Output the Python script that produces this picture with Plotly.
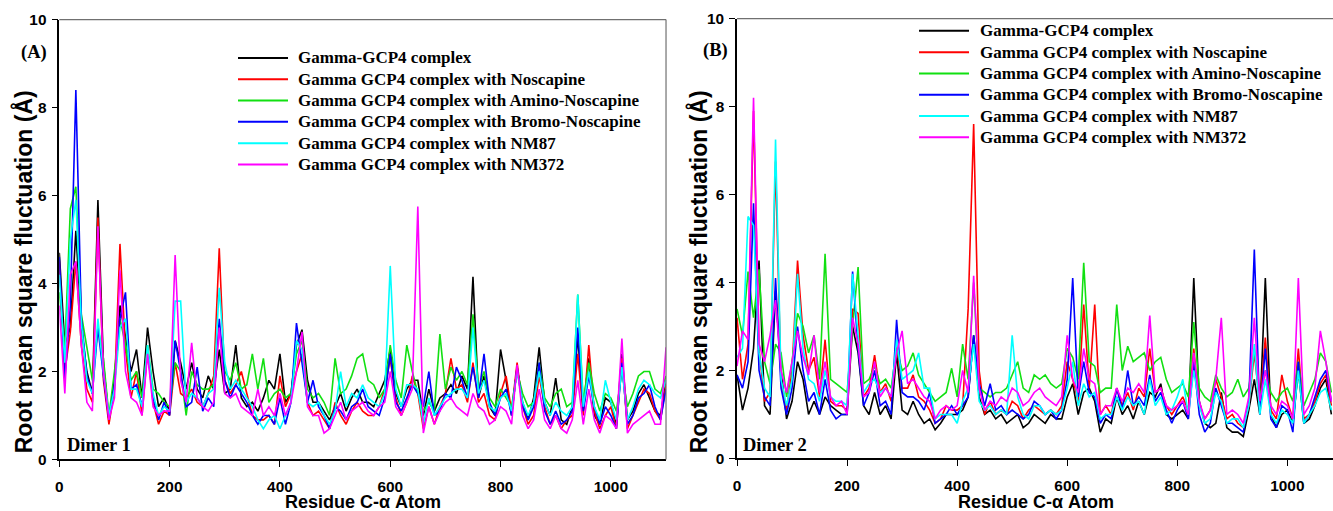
import plotly.graph_objects as go

# ---------------- data ----------------
series_names = [
    "Gamma-GCP4 complex",
    "Gamma GCP4 complex with Noscapine",
    "Gamma GCP4 complex with Amino-Noscapine",
    "Gamma GCP4 complex with Bromo-Noscapine",
    "Gamma GCP4 complex with NM87",
    "Gamma GCP4 complex with NM372",
]
series_colors = ["#000000", "#ff0000", "#11e011", "#0000ff", "#00ffff", "#ff00ff"]

residues_a = list(range(0, 1101, 10))
residues_b = list(range(0, 1081, 10))

# Dimer 1 (panel A)
a_black = [4.7, 2.6, 3.0, 5.2, 3.0, 2.0, 1.5, 5.9, 2.2, 0.9,
           1.8, 3.5, 2.8, 2.0, 2.5, 1.4, 3.0, 2.0, 1.2, 1.4,
           1.1, 2.7, 2.2, 1.6, 2.2, 1.6, 1.4, 1.9, 1.6, 2.5,
           1.5, 1.6, 2.6, 1.4, 1.2, 1.3, 1.1, 1.4, 1.8, 1.6,
           2.4, 1.3, 1.5, 2.6, 2.95, 1.8, 1.3, 1.3, 1.1, 0.9,
           1.2, 1.5, 1.1, 1.4, 1.6, 1.3, 1.3, 1.2, 1.5, 1.8,
           2.5, 1.5, 1.2, 1.6, 1.8, 1.8, 1.0, 1.6, 1.1, 1.4,
           1.5, 1.7, 1.5, 1.9, 1.6, 4.15, 1.4, 1.9, 1.2, 1.0,
           2.5, 1.8, 1.0, 2.1, 1.3, 0.9, 1.4, 2.55, 1.3, 1.0,
           1.85, 0.9, 0.8, 1.2, 2.8, 1.1, 2.3, 1.0, 0.8, 1.4,
           1.3, 0.8, 2.4, 0.9, 1.1, 1.5, 1.7, 1.4, 1.1, 1.0, 1.8]
a_red = [4.5, 2.0, 2.9, 4.5, 2.6, 1.6, 1.3, 5.5, 1.8, 0.8,
         1.6, 4.9, 2.5, 1.4, 2.0, 1.0, 2.5, 1.3, 0.8, 1.1,
         1.0, 2.2, 1.5, 1.4, 1.6, 1.3, 1.2, 1.5, 1.9, 4.8,
         1.8, 1.5, 1.7, 2.0, 1.5, 1.0, 0.9, 0.9, 1.0, 0.8,
         1.9, 1.2, 1.5, 2.0, 2.4, 1.3, 1.0, 1.1, 0.9, 0.7,
         1.3, 1.0, 0.8, 1.1, 1.3, 1.1, 1.0, 1.0, 1.2, 1.6,
         2.3, 1.4, 1.0, 1.3, 1.9, 1.5, 0.7, 1.2, 0.8, 1.2,
         1.5, 2.3, 1.6, 1.7, 1.3, 2.2, 1.3, 1.5, 1.0, 0.9,
         1.5, 1.9, 1.1, 2.2, 1.2, 0.8, 1.0, 1.9, 1.2, 0.8,
         1.0, 0.7, 0.9, 1.0, 2.4, 1.0, 2.6, 1.1, 0.7, 1.0,
         1.2, 0.7, 2.3, 0.7, 1.0, 1.3, 1.6, 1.5, 1.1, 0.9, 1.7]
a_green = [3.8, 2.5, 5.7, 6.2, 3.3, 2.5, 1.8, 3.0, 2.3, 1.0,
           2.0, 3.2, 2.6, 1.8, 2.0, 1.4, 2.6, 1.6, 1.5, 1.3,
           1.2, 2.2, 2.0, 1.0, 2.0, 1.7, 1.6, 1.6, 1.7, 3.0,
           2.0, 1.8, 2.2, 1.6, 1.7, 2.4, 1.6, 2.3, 1.3, 1.5,
           1.6, 1.4, 1.5, 2.4, 2.7, 1.6, 1.4, 1.5, 1.3, 1.0,
           2.3, 1.5, 1.6, 1.9, 2.3, 2.4, 1.8, 1.7, 1.4, 1.6,
           2.6, 1.8, 1.4, 2.6, 2.0, 1.5, 1.1, 1.3, 1.1, 2.85,
           1.6, 2.1, 1.8, 2.0, 1.7, 3.3, 1.6, 2.0, 1.4, 1.2,
           1.6, 1.4, 1.2, 2.0, 1.5, 1.2, 1.3, 2.2, 1.4, 1.2,
           1.5, 1.6, 1.2, 1.3, 3.75, 1.3, 2.2, 1.5, 1.1, 1.5,
           1.4, 1.1, 2.0, 1.2, 1.5, 1.9, 2.0, 2.0, 1.6, 1.5, 1.9]
a_blue = [4.6, 1.8, 3.5, 8.4, 3.2, 1.9, 1.5, 3.0, 1.9, 0.9,
          1.7, 3.2, 3.8, 1.6, 1.7, 1.2, 2.5, 1.4, 0.9, 1.3,
          1.0, 2.7, 2.0, 1.2, 1.3, 2.1, 1.1, 1.4, 1.2, 3.2,
          1.8, 1.4, 1.7, 1.5, 1.3, 1.0, 0.8, 1.0, 1.0, 0.8,
          1.4, 0.8, 1.3, 3.1, 2.2, 1.3, 1.8, 1.2, 1.0, 0.7,
          1.2, 1.1, 0.9, 1.2, 1.3, 1.6, 1.2, 1.1, 1.0, 1.4,
          2.4, 1.3, 1.1, 1.4, 1.7, 1.5, 1.2, 2.0, 1.0, 1.1,
          1.5, 1.4, 2.1, 1.8, 1.4, 2.1, 1.4, 2.4, 1.3, 1.0,
          1.4, 1.6, 1.0, 2.1, 1.2, 0.9, 1.2, 2.2, 1.1, 0.8,
          1.1, 0.8, 0.9, 1.1, 3.0, 1.1, 1.9, 1.2, 0.8, 1.2,
          1.0, 0.7, 2.2, 0.8, 1.0, 1.4, 1.5, 1.7, 1.2, 0.9, 1.6]
a_cyan = [4.2, 2.2, 5.0, 5.9, 3.1, 1.8, 1.5, 3.2, 2.0, 1.0,
          1.6, 3.0, 3.2, 1.6, 1.6, 1.2, 2.6, 1.5, 1.0, 1.2,
          1.1, 3.6, 3.6, 1.3, 1.5, 1.4, 1.2, 1.5, 1.6, 3.9,
          2.2, 1.6, 1.8, 1.6, 1.4, 1.2, 0.9, 0.7, 0.9, 1.0,
          0.7, 1.0, 1.3, 2.7, 2.5, 1.3, 1.2, 1.3, 1.0, 0.8,
          1.1, 2.0, 1.2, 1.5, 1.4, 1.7, 1.4, 1.3, 1.2, 1.5,
          4.4, 1.6, 1.2, 1.7, 1.7, 1.6, 0.8, 1.4, 1.0, 1.2,
          1.4, 1.5, 1.6, 1.6, 1.4, 3.0, 1.5, 1.8, 1.2, 1.1,
          1.4, 1.5, 1.1, 2.0, 1.3, 1.0, 1.3, 2.0, 1.3, 1.0,
          1.3, 1.1, 1.0, 1.2, 3.75, 1.2, 2.0, 1.2, 0.9, 1.8,
          1.3, 0.9, 2.1, 0.9, 1.2, 1.6, 1.8, 1.7, 1.5, 1.4, 1.8]
a_magenta = [3.5, 1.5, 4.2, 4.5, 2.6, 1.3, 1.1, 5.3, 2.0, 0.9,
             1.4, 4.3, 2.0, 1.4, 1.3, 1.0, 2.4, 1.2, 1.0, 1.1,
             1.1, 4.65, 1.8, 1.3, 2.65, 1.4, 1.2, 1.1, 1.3, 3.0,
             1.5, 1.4, 1.5, 1.2, 1.1, 1.0, 1.6, 1.0, 1.2, 1.0,
             1.5, 1.0, 1.3, 2.0, 2.9, 1.2, 1.0, 1.0, 0.6, 0.7,
             1.0, 1.3, 0.9, 1.1, 1.2, 1.3, 1.1, 1.0, 1.2, 1.3,
             2.0, 1.2, 1.0, 1.3, 1.6, 5.75, 0.6, 1.2, 0.8, 1.1,
             1.3, 1.4, 1.2, 1.1, 1.0, 1.5, 1.2, 1.1, 0.8, 0.9,
             1.2, 1.1, 0.8, 2.15, 1.0, 0.7, 0.9, 1.6, 0.9, 0.7,
             1.0, 0.7, 0.6, 0.9, 1.8, 0.8, 1.6, 0.9, 0.6, 1.0,
             0.9, 0.7, 2.75, 0.6, 0.8, 0.9, 1.0, 1.1, 0.8, 0.8, 2.55]

# Dimer 2 (panel B)
b_black = [1.9, 1.1, 1.6, 2.5, 4.5, 1.2, 1.0, 3.8, 2.0, 0.9,
           1.3, 2.2, 1.8, 1.0, 1.3, 1.0, 1.4, 1.2, 1.1, 1.0,
           1.0, 3.0, 2.4, 1.2, 1.0, 1.5, 1.0, 1.2, 0.9, 2.4,
           1.1, 1.0, 1.3, 1.0, 0.8, 0.9, 0.65, 0.8, 1.0, 1.0,
           1.0, 1.1, 1.4, 2.8, 1.4, 1.0, 1.1, 0.9, 1.0, 0.8,
           0.9, 1.0, 0.7, 0.8, 1.0, 0.9, 0.8, 1.0, 0.9, 0.9,
           1.4, 1.7, 1.0, 1.5, 1.6, 1.3, 0.6, 0.9, 0.8, 1.4,
           1.0, 1.2, 0.9, 1.3, 1.0, 1.5, 1.4, 1.7, 1.0, 0.9,
           1.0, 1.1, 0.9, 4.1, 1.3, 0.8, 0.7, 0.8, 1.5, 0.7,
           0.6, 0.6, 0.5, 1.1, 1.8, 1.0, 4.1, 1.0, 0.7, 1.0,
           1.1, 0.8, 2.0, 0.8, 0.9, 1.2, 1.6, 1.8, 1.0]
b_red = [3.2, 1.8, 2.6, 7.9, 2.5, 1.3, 1.5, 6.75, 1.7, 1.1,
         2.0, 4.5, 2.8, 2.0, 2.3, 1.4, 2.7, 1.3, 1.2, 1.2,
         1.1, 3.4, 3.3, 1.4, 1.6, 2.35, 1.5, 1.7, 1.3, 2.6,
         1.6, 1.6, 1.9, 1.4, 1.3, 1.1, 0.8, 0.9, 1.2, 1.1,
         1.1, 1.2, 3.4, 7.6, 2.0, 1.0, 1.3, 1.0, 1.1, 1.0,
         1.3, 1.2, 0.9, 1.1, 1.2, 1.1, 1.0, 1.1, 1.0, 1.2,
         2.2, 1.8, 1.3, 3.5, 1.6, 3.5, 1.0, 1.2, 1.0, 1.6,
         1.2, 1.5, 1.1, 1.6, 1.4, 2.5, 1.5, 1.6, 1.2, 1.0,
         1.2, 1.4, 1.1, 2.5, 1.2, 0.9, 1.1, 1.8, 1.4, 0.9,
         1.0, 0.8, 0.7, 1.2, 2.4, 1.2, 2.75, 1.1, 0.9, 1.9,
         1.3, 0.9, 2.5, 0.9, 1.0, 1.3, 1.7, 1.9, 1.2]
b_green = [3.4, 2.8, 4.25, 3.2, 4.3, 2.2, 1.7, 2.6, 2.4, 1.4,
           2.2, 3.3, 3.0, 2.4, 2.8, 1.8, 4.65, 1.8, 1.7, 1.6,
           1.5, 3.0, 4.35, 1.7, 1.8, 2.1, 1.7, 1.8, 1.6, 2.5,
           2.0, 2.1, 2.4, 1.9, 1.7, 1.5, 1.3, 1.4, 1.5, 2.05,
           1.4, 2.6, 1.8, 4.0, 1.6, 1.5, 1.4, 1.5, 1.5, 1.6,
           1.9, 2.2, 1.6, 1.5, 1.9, 1.8, 1.9, 1.7, 1.6, 1.7,
           2.5, 2.3, 1.8, 4.45, 2.2, 2.1, 1.5, 1.6, 1.6, 3.5,
           2.0, 2.55, 2.2, 2.3, 2.4, 2.0, 2.2, 2.3, 1.8, 1.5,
           1.6, 1.7, 1.4, 3.1, 1.6, 1.4, 1.3, 1.9, 1.6, 1.4,
           1.5, 1.8, 1.4, 1.6, 2.5, 1.4, 2.0, 1.5, 1.3, 1.5,
           1.6, 1.3, 2.2, 1.2, 1.5, 1.8, 2.4, 2.2, 1.5]
b_blue = [1.9, 1.6, 2.2, 5.8, 2.0, 1.4, 1.2, 4.1, 1.6, 1.0,
          1.6, 3.0, 2.0, 1.3, 1.5, 1.0, 1.8, 1.1, 0.9, 1.0,
          1.0, 4.25, 2.5, 1.2, 1.5, 2.0, 1.2, 1.3, 1.0, 3.15,
          1.5, 1.4, 1.4, 1.3, 1.1, 1.5, 0.8, 0.9, 1.0, 1.2,
          1.0, 1.2, 1.4, 2.8, 1.7, 1.2, 1.7, 1.1, 1.2, 1.0,
          1.1, 1.0, 0.9, 1.0, 1.3, 1.2, 1.0, 1.1, 0.9, 1.1,
          1.8, 4.1, 1.4, 2.2, 1.5, 1.4, 0.8, 1.0, 0.9, 1.6,
          1.1, 2.0, 1.2, 1.4, 1.2, 1.9, 1.3, 1.5, 1.1, 0.8,
          1.1, 1.3, 0.9, 2.2, 1.0, 0.6, 0.8, 1.6, 1.2, 0.8,
          0.8, 0.7, 0.6, 1.3, 4.75, 1.0, 2.5, 0.9, 0.7, 1.2,
          1.1, 0.6, 2.2, 0.8, 1.0, 1.4, 1.8, 2.0, 1.3]
b_cyan = [2.3, 2.5, 5.5, 5.3, 2.4, 1.6, 1.4, 7.25, 1.8, 1.2,
          1.8, 4.2, 2.5, 1.8, 1.7, 1.3, 2.0, 1.4, 1.3, 1.3,
          1.2, 4.2, 2.8, 1.5, 1.7, 1.8, 1.5, 1.6, 1.4, 2.7,
          1.8, 1.9, 2.0, 2.4, 1.6, 1.6, 0.9, 1.0, 1.0, 1.0,
          0.8, 1.3, 1.6, 2.6, 1.3, 1.1, 1.2, 1.0, 1.1, 1.0,
          2.8, 1.4, 1.0, 0.9, 1.2, 1.2, 1.0, 1.1, 1.0, 1.1,
          1.6, 2.2, 1.2, 1.7, 1.4, 1.5, 0.9, 1.0, 1.0, 1.4,
          1.1, 1.4, 1.2, 1.3, 1.0, 1.8, 1.2, 1.4, 1.0, 1.1,
          1.4, 1.8, 1.0, 2.0, 1.2, 0.8, 0.9, 1.5, 1.3, 0.8,
          0.9, 0.9, 0.7, 1.2, 2.6, 1.0, 1.8, 1.0, 0.8, 1.1,
          1.0, 0.8, 2.0, 0.8, 1.0, 1.2, 1.5, 1.6, 1.1]
b_magenta = [2.1, 2.9, 2.7, 8.2, 2.6, 2.2, 2.8, 3.6, 2.0, 1.5,
             2.2, 2.9, 2.3, 1.9, 2.8, 1.5, 2.2, 1.4, 1.2, 1.3,
             1.0, 3.2, 2.6, 1.4, 1.5, 2.2, 1.4, 1.6, 1.4, 2.4,
             2.9, 1.7, 1.8, 1.6, 1.4, 1.3, 0.9, 1.1, 1.2, 1.1,
             1.2, 2.0, 1.5, 4.15, 1.6, 1.1, 1.3, 1.2, 1.4, 1.3,
             1.6, 1.5, 1.2, 1.3, 1.5, 1.6, 1.4, 1.3, 1.2, 1.4,
             2.8, 1.8, 1.5, 2.5, 1.8, 1.7, 1.0, 1.2, 1.2, 1.6,
             1.3, 1.6, 1.5, 1.7, 1.5, 3.25, 1.5, 1.6, 1.2, 1.1,
             1.2, 1.3, 1.0, 2.4, 1.3, 0.9, 1.1, 1.8, 3.2, 1.0,
             1.1, 1.0, 0.8, 1.4, 3.2, 1.3, 2.0, 1.2, 1.0, 1.3,
             1.2, 0.9, 4.1, 1.0, 1.2, 1.6, 2.9, 2.2, 1.3]

panel_a = [a_black, a_red, a_green, a_blue, a_cyan, a_magenta]
panel_b = [b_black, b_red, b_green, b_blue, b_cyan, b_magenta]

x_ticks = [0, 200, 400, 600, 800, 1000]
y_ticks = [0, 2, 4, 6, 8, 10]

# ---------------- layout geometry ----------------
# The captured page shows the figure with a small offset and a vertical
# squeeze; these helpers map a wanted on-screen position to figure pixels.
W, H = 1346, 521
OX, OY, KX, KY = 3.0, 8.5, 0.997, 0.9646


def px(sx):
    return (sx - OX) / KX


def py(sy):
    return (sy - OY) / KY


def fx(sx):
    return min(1.0, max(0.0, px(sx) / W))


def fy(sy):
    return min(1.0, max(0.0, 1 - py(sy) / H))


fig = go.Figure()
for name, color, ys in zip(series_names, series_colors, panel_a):
    fig.add_trace(go.Scatter(x=residues_a, y=ys, mode="lines", name=name,
                             line=dict(color=color, width=1.6),
                             xaxis="x", yaxis="y", showlegend=False))
for name, color, ys in zip(series_names, series_colors, panel_b):
    fig.add_trace(go.Scatter(x=residues_b, y=ys, mode="lines", name=name,
                             line=dict(color=color, width=1.6),
                             xaxis="x2", yaxis="y2", showlegend=False))

SANS = "Arial, Liberation Sans, sans-serif"
SERIF = "Liberation Serif, Times New Roman, serif"
tick_font = dict(family=SANS, size=15.4, color="#000")


def xaxis(domain, rng, anchor):
    return dict(domain=domain, range=rng, tickvals=x_ticks,
                ticktext=[f"<b>{v}</b>" for v in x_ticks],
                ticks="outside", ticklen=6, tickwidth=1, tickcolor="#000",
                ticklabelstandoff=6,
                showline=True, linecolor="#000", linewidth=1.5, mirror=False,
                showgrid=False, zeroline=False, tickfont=tick_font, anchor=anchor)


def yaxis(domain, anchor):
    return dict(domain=domain, range=[0, 10], tickvals=y_ticks,
                ticktext=[f"<b>{v}</b>" for v in y_ticks],
                ticks="outside", ticklen=6, tickwidth=1, tickcolor="#000",
                ticklabelstandoff=2,
                showline=True, linecolor="#000", linewidth=1.5, mirror=False,
                showgrid=False, zeroline=False, tickfont=tick_font, anchor=anchor)


annotations = []
shapes = []

# panel frames (top/right in grey)
for xr, yr in (("x", "y"), ("x2", "y2")):
    shapes.append(dict(type="line", xref=f"{xr} domain", yref=f"{yr} domain",
                       x0=0, x1=1, y0=1, y1=1, line=dict(color="#707070", width=1.2)))
    shapes.append(dict(type="line", xref=f"{xr} domain", yref=f"{yr} domain",
                       x0=1, x1=1, y0=0, y1=1, line=dict(color="#707070", width=1.2)))

# legends (key lines + labels)
legend_cfg = [
    dict(x0=237, x1=287, tx=295, rows=[57.3, 78.6, 99.8, 121.0, 142.3, 163.5]),
    dict(x0=918, x1=968, tx=977, rows=[30.3, 51.6, 72.8, 94.0, 115.3, 136.5]),
]
for cfg in legend_cfg:
    for name, color, ry in zip(series_names, series_colors, cfg["rows"]):
        shapes.append(dict(type="line", xref="paper", yref="paper",
                           x0=fx(cfg["x0"]), x1=fx(cfg["x1"]),
                           y0=fy(ry), y1=fy(ry),
                           line=dict(color=color, width=2)))
        annotations.append(dict(text=f"<b>{name}</b>", x=fx(cfg["tx"]), y=fy(ry),
                                xref="paper", yref="paper", xanchor="left", yanchor="middle",
                                showarrow=False,
                                font=dict(family=SERIF, size=17.0, color="#000")))

# axis titles
for cx in (22, 697):
    annotations.append(dict(text="<b>Root mean square fluctuation (Å)</b>",
                            x=fx(cx), y=fy(271), xref="paper", yref="paper",
                            xanchor="center", yanchor="middle", textangle=-90,
                            showarrow=False, font=dict(family=SANS, size=23, color="#000")))
for cx in (361.5, 1034.5):
    annotations.append(dict(text="<b>Residue C-α Atom</b>",
                            x=fx(cx), y=fy(500.5), xref="paper", yref="paper",
                            xanchor="center", yanchor="middle",
                            showarrow=False, font=dict(family=SANS, size=18, color="#000")))

# panel labels
for txt, sx, sy in (("(A)", 18, 52), ("Dimer 1", 64, 443), ("(B)", 700, 50), ("Dimer 2", 740, 443)):
    annotations.append(dict(text=f"<b>{txt}</b>", x=fx(sx), y=fy(sy),
                            xref="paper", yref="paper", xanchor="left", yanchor="middle",
                            showarrow=False, font=dict(family=SERIF, size=18.5, color="#000")))

# panel B runs to the right edge of the picture (0.5503 screen px per residue)
b_right = min(1333.0, OX + KX * W)
b_range_max = (b_right - 736) / 0.5503

fig.update_layout(
    width=W, height=H,
    margin=dict(l=0, r=0, t=0, b=0),
    paper_bgcolor="white", plot_bgcolor="white",
    showlegend=False,
    xaxis=xaxis([fx(58.3), fx(665)], [0, 1100], "y"),
    yaxis=yaxis([fy(457.7), fy(19)], "x"),
    xaxis2=xaxis([fx(736), fx(b_right)], [0, b_range_max], "y2"),
    yaxis2=yaxis([fy(456.7), fy(18)], "x2"),
    shapes=shapes,
    annotations=annotations,
)

fig.write_html("out.html")
